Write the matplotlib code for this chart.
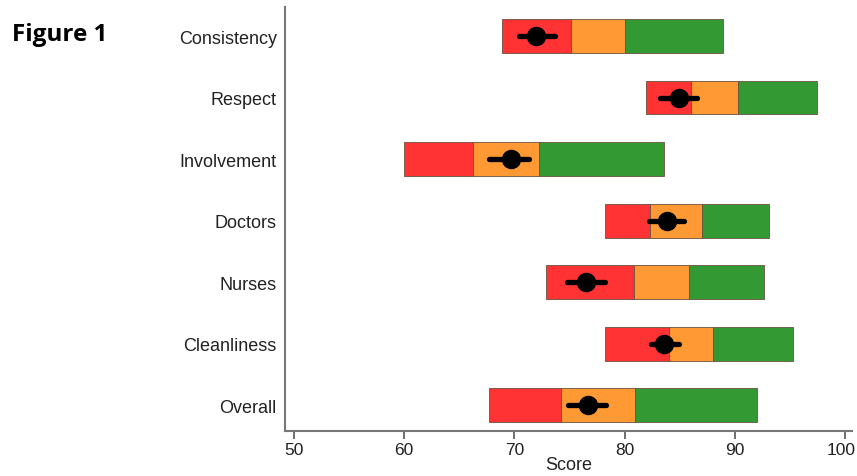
import numpy as np
import matplotlib.pyplot as plt
from matplotlib.transforms import ScaledTranslation

categories = ['Consistency', 'Respect', 'Involvement', 'Doctors', 'Nurses', 'Cleanliness', 'Overall']
# band edges: start of red, red/orange, orange/green, end of green
band_start = [68.9, 81.9, 60.0, 78.2, 72.9, 78.2, 67.7]
band_red_end = [75.1, 86.0, 66.2, 82.3, 80.8, 84.0, 74.2]
band_orange_end = [80.0, 90.3, 72.2, 87.0, 85.8, 88.0, 80.9]
band_end = [88.9, 97.4, 83.6, 93.1, 92.6, 95.3, 92.0]
# mean score with confidence interval
score = [72.0, 84.9, 69.7, 83.8, 76.5, 83.6, 76.7]
ci_low = [70.4, 83.2, 67.7, 82.2, 74.8, 82.4, 74.9]
ci_high = [73.7, 86.6, 71.3, 85.4, 78.2, 84.9, 78.3]
x_ticks = [50, 60, 70, 80, 90, 100]

plt.rcParams['font.family'] = ['Liberation Sans', 'DejaVu Sans']

fig = plt.figure(figsize=(8.57, 4.77), dpi=100)
ax = fig.add_axes([0.3326, 0.0943, 0.6614, 0.8887])

y = np.arange(len(categories))[::-1]
start = np.array(band_start)
red_end = np.array(band_red_end)
orange_end = np.array(band_orange_end)
end = np.array(band_end)

h = 0.55
ax.barh(y, red_end - start, left=start, height=h, color='#ff3333', edgecolor='#6b5040', linewidth=0.6)
ax.barh(y, orange_end - red_end, left=red_end, height=h, color='#ff9933', edgecolor='#6b5040', linewidth=0.6)
ax.barh(y, end - orange_end, left=orange_end, height=h, color='#339933', edgecolor='#6b5040', linewidth=0.6)

for yi, lo, hi in zip(y, ci_low, ci_high):
    ax.plot([lo, hi], [yi, yi], color='black', lw=3.8, solid_capstyle='round')
ax.plot(score, y, 'o', color='black', markersize=13)

ax.set_xlim(49.2, 100.6)
ax.set_ylim(-0.42, 6.47)
ax.set_yticks(y)
ax.set_yticklabels(categories, fontsize=13, color='#222222')
ax.set_xticks(x_ticks)
ax.tick_params(axis='x', labelsize=12.5, length=6, width=1.2, pad=2, color='#555555', labelcolor='#222222')
ax.tick_params(axis='y', length=0, pad=6)
ax.set_xlabel('Score', fontsize=13, color='#222222', labelpad=-1)

# keep the last tick label inside the figure edge
last = ax.get_xticklabels()[-1]
last.set_horizontalalignment('right')
last.set_transform(last.get_transform() + ScaledTranslation(10 / 100, 0, fig.dpi_scale_trans))

for side in ['top', 'right']:
    ax.spines[side].set_visible(False)
for side in ['left', 'bottom']:
    ax.spines[side].set_color('#777777')
    ax.spines[side].set_linewidth(1.5)

fig.text(0.014, 0.915, 'Figure 1', fontsize=17.5, fontweight='bold', family=['Open Sans', 'DejaVu Sans'])

fig.savefig('out.png', dpi=100)
